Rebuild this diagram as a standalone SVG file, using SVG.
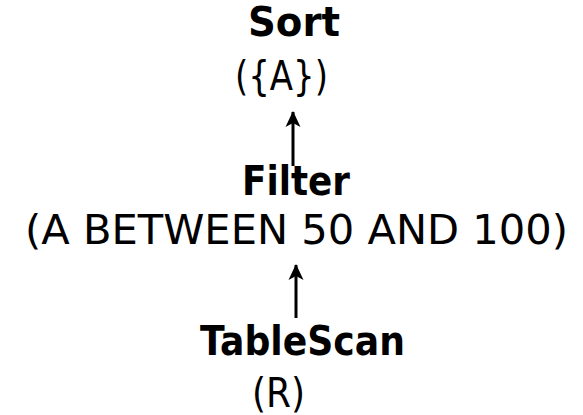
<svg xmlns="http://www.w3.org/2000/svg" width="583" height="415" viewBox="0 0 583 415">
<style>
text{font-family:"DejaVu Sans","Liberation Sans",sans-serif;font-size:40px;fill:#000}
.t{font-weight:bold}
.a{stroke:#000;stroke-width:3;fill:none}
</style>
<defs>
<marker id="ah" markerUnits="userSpaceOnUse" markerWidth="18" markerHeight="18" refX="15" refY="8" orient="auto" viewBox="0 0 18 16">
<path d="M16,8 L0,0.5 L4,8 L0,15.5 z" fill="#000"/>
</marker>
</defs>
<rect width="583" height="415" fill="#fff"/>
<g id="connectors">
<line class="a" x1="293" y1="166" x2="293" y2="112" marker-end="url(#ah)"/>
<line class="a" x1="296" y1="318" x2="296" y2="265" marker-end="url(#ah)"/>
</g>
<g id="sort">
<text class="t" x="248" y="36" textLength="92" lengthAdjust="spacingAndGlyphs">Sort</text>
<text x="235" y="90" textLength="93" lengthAdjust="spacingAndGlyphs">({A})</text>
</g>
<g id="filter">
<text class="t" x="242" y="195" textLength="108" lengthAdjust="spacingAndGlyphs">Filter</text>
<text x="25" y="244" textLength="543" lengthAdjust="spacingAndGlyphs">(A BETWEEN 50 AND 100)</text>
</g>
<g id="tablescan">
<text class="t" x="200" y="355" textLength="205" lengthAdjust="spacingAndGlyphs">TableScan</text>
<text x="252" y="407" textLength="53" lengthAdjust="spacingAndGlyphs">(R)</text>
</g>
</svg>
